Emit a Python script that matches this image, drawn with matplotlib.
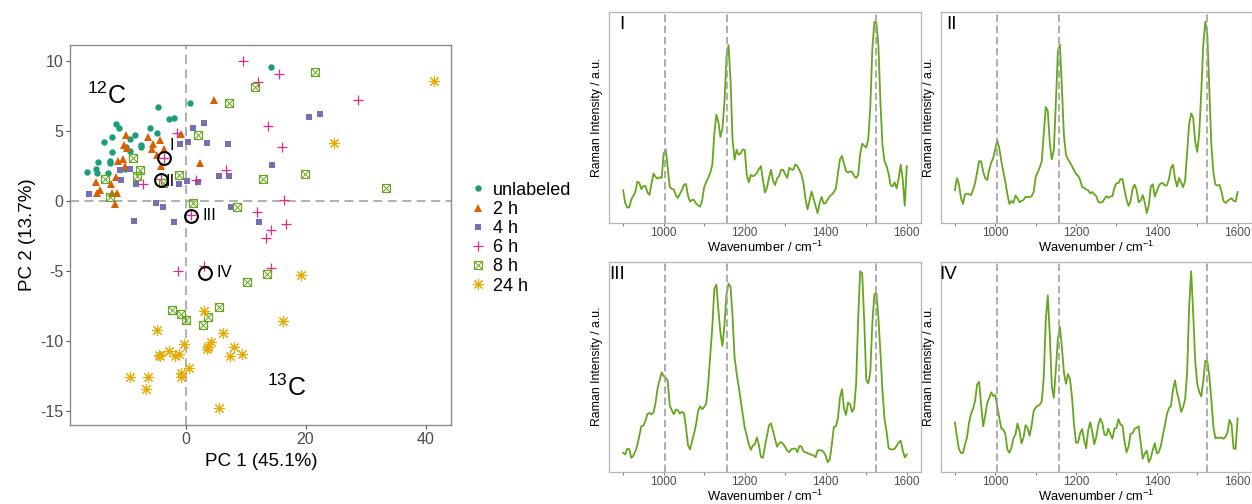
import numpy as np
import matplotlib
matplotlib.use('Agg')
import matplotlib.pyplot as plt
from matplotlib.lines import Line2D
from matplotlib.legend_handler import HandlerTuple

plt.rcParams['font.family'] = ['Liberation Sans', 'DejaVu Sans']
plt.rcParams['mathtext.fontset'] = 'custom'
plt.rcParams['mathtext.rm'] = 'Liberation Sans'
plt.rcParams['mathtext.it'] = 'Liberation Sans:italic'
plt.rcParams['mathtext.bf'] = 'Liberation Sans:bold'
plt.rcParams['axes.unicode_minus'] = False

# ---------------- PCA scores ----------------
unl_x = [14.2, 0.7, -4.6, -2.7, -2.0, -11.6, -11.1, -6.0, -4.8, -8.5, -12.2, -9.2, -13.6,
         -7.5, -7.45, -9.95, -12.2, -9.3, -14.6, -12.6, -12.6, -14.95, -16.4, -14.8, -12.9, -10.1]
unl_y = [9.6, 7.0, 6.7, 5.9, 5.95, 5.5, 5.2, 5.2, 4.9, 4.7, 4.6, 4.45, 4.2,
         4.0, 3.9, 3.85, 3.5, 3.55, 2.8, 2.9, 2.7, 2.3, 2.1, 2.0, 2.0, 2.3]

h2_x = [4.7, -0.8, -9.95, -6.3, -4.2, -5.45, -10.2, -9.8, -5.6, -3.6, -4.8, 2.4, -10.5,
        -11.2, -10.1, -4.1, -11.6, -14.95, -12.5, -14.3, -14.7, -12.2, -11.4, -11.7]
h2_y = [7.2, 4.8, 4.7, 4.6, 4.4, 4.1, 4.0, 3.8, 3.75, 3.75, 3.3, 2.7, 3.0,
        2.9, 2.5, 2.5, 1.75, 1.35, 1.2, 0.8, 0.55, 0.55, 0.6, -0.2]

h4_x = [22.4, 20.5, 3.05, 1.2, 0.4, -0.95, 3.55, 7.0, 14.4, -9.2, -11.0, 5.55, 7.2,
        -10.7, -8.3, 0.3, -1.1, 2.0, -16.1, -4.95, -3.7, 7.55, -8.55, -2.0, 12.3]
h4_y = [6.2, 6.0, 5.6, 5.2, 4.25, 4.1, 4.15, 4.1, 2.55, 2.3, 2.25, 1.8, 1.8,
        1.5, 1.25, 1.45, 1.25, 1.4, 0.5, -0.15, -0.4, -0.4, -1.4, -1.5, -1.5]

h6_x = [9.6, 15.6, 12.0, 28.7, 13.8, -1.5, 16.0, -3.55, 6.7, 1.8, -7.05, -4.1, 16.4,
        0.9, 11.9, 16.7, 14.3, 13.4, -1.2, 3.1, 14.3]
h6_y = [10.0, 9.1, 8.55, 7.25, 5.4, 4.85, 3.9, 3.1, 2.25, 1.5, 1.2, 1.6, 0.1,
        -1.0, -0.75, -1.65, -2.05, -2.65, -4.98, -4.6, -4.8]

h8_x = [21.5, 11.6, 7.3, 2.05, -8.7, -7.55, -8.1, -13.5, -1.05, 12.9, 19.9, 33.4, -12.6,
        -3.8, 1.3, 8.6, 10.2, 13.5, -2.3, 5.55, -0.7, 0.1, 3.8, 2.9]
h8_y = [9.2, 8.15, 7.05, 4.75, 3.1, 2.2, 1.8, 1.6, 1.85, 1.55, 1.95, 0.97, 0.3,
        1.3, -0.15, -0.4, -5.8, -5.2, -7.8, -7.55, -8.1, -8.5, -8.3, -8.85]

h24_x = [41.4, 24.7, 19.3, 16.3, 3.1, -4.8, 6.2, 4.2, -0.2, 3.7, 8.0, 3.5, -2.7,
         -1.1, 9.4, -4.4, -4.2, 7.4, -1.8, 0.5, -0.8, -0.7, -9.2, -6.2, -6.6, 5.55]
h24_y = [8.6, 4.15, -5.3, -8.6, -7.85, -9.2, -9.4, -10.1, -10.2, -10.4, -10.4, -10.55, -10.7,
         -10.9, -10.9, -11.0, -11.1, -11.05, -11.1, -11.9, -12.3, -12.6, -12.6, -12.6, -13.4, -14.8]

sel_x = [-3.55, -4.1, 0.9, 3.2]
sel_y = [3.1, 1.5, -1.03, -5.1]
sel_labels = ['I', 'II', 'III', 'IV']

group_labels = ['unlabeled', '2 h', '4 h', '6 h', '8 h', '24 h']
colors = ['#1B9E77', '#D95F02', '#7570B3', '#E7298A', '#66A61E', '#E6AB02']

# ---------------- Spectra (intensity, a.u.) ----------------
wavenumber = np.arange(900, 1601, 5)

spec_I = [
    128, 91, 78, 78, 101, 112, 123, 154, 150, 132,
    141, 141, 122, 115, 149, 178, 168, 163, 167, 165,
    236, 249, 196, 139, 133, 131, 114, 106, 118, 129,
    145, 147, 113, 95, 100, 100, 89, 84, 80, 99,
    138, 153, 165, 181, 203, 297, 352, 330, 286, 311,
    388, 520, 557, 454, 278, 219, 248, 234, 237, 249,
    248, 175, 152, 174, 170, 173, 180, 191, 200, 159,
    122, 137, 166, 189, 157, 144, 164, 171, 189, 189,
    175, 165, 195, 190, 189, 205, 200, 188, 176, 149,
    102, 72, 98, 125, 103, 82, 61, 92, 109, 89,
    91, 102, 111, 116, 123, 134, 178, 220, 230, 207,
    185, 181, 184, 183, 171, 165, 174, 237, 266, 260,
    255, 280, 376, 546, 626, 623, 554, 386, 262, 215,
    201, 178, 144, 140, 152, 134, 165, 204, 160, 83, 200]

spec_II = [
    138, 173, 155, 115, 97, 125, 127, 126, 123, 138,
    158, 190, 223, 222, 192, 173, 167, 198, 218, 233,
    258, 285, 260, 222, 192, 161, 125, 97, 106, 100,
    122, 114, 102, 106, 109, 118, 117, 117, 120, 132,
    176, 190, 204, 222, 300, 382, 370, 275, 228, 255,
    395, 545, 565, 437, 298, 242, 228, 219, 208, 196,
    185, 180, 168, 147, 144, 140, 137, 128, 132, 125,
    120, 103, 101, 102, 111, 120, 115, 119, 120, 145,
    158, 158, 170, 170, 138, 110, 91, 105, 142, 154,
    138, 102, 107, 123, 102, 70, 92, 148, 155, 119,
    134, 150, 158, 158, 151, 152, 170, 203, 212, 172,
    148, 173, 160, 146, 165, 250, 332, 363, 350, 280,
    250, 305, 425, 565, 632, 595, 435, 270, 190, 154,
    151, 153, 134, 106, 100, 106, 110, 114, 106, 104, 132]

spec_III = [
    93, 88, 105, 104, 78, 84, 97, 116, 144, 173,
    174, 189, 209, 212, 208, 213, 242, 286, 309, 333,
    322, 317, 308, 235, 220, 208, 222, 220, 210, 215,
    212, 169, 116, 103, 127, 151, 178, 219, 232, 223,
    230, 240, 302, 385, 468, 582, 595, 520, 452, 412,
    475, 565, 598, 590, 500, 378, 330, 292, 251, 211,
    168, 145, 119, 102, 114, 119, 139, 116, 81, 78,
    113, 144, 175, 181, 157, 133, 111, 122, 125, 119,
    110, 99, 95, 104, 105, 106, 95, 113, 112, 97,
    95, 92, 90, 87, 85, 80, 100, 101, 100, 95,
    84, 65, 73, 118, 170, 172, 195, 257, 283, 226,
    206, 243, 238, 215, 226, 300, 495, 635, 628, 485,
    310, 300, 335, 480, 566, 570, 495, 392, 276, 195,
    157, 108, 103, 103, 105, 114, 124, 129, 101, 79, 88]

spec_IV = [
    188, 147, 110, 98, 98, 123, 144, 188, 213, 229,
    251, 300, 308, 240, 177, 208, 245, 260, 277, 266,
    269, 233, 201, 170, 167, 153, 108, 99, 114, 142,
    153, 185, 163, 126, 144, 180, 172, 149, 179, 222,
    232, 237, 240, 251, 320, 490, 563, 445, 295, 261,
    345, 435, 470, 409, 335, 302, 331, 316, 263, 181,
    128, 129, 156, 169, 137, 112, 165, 189, 161, 124,
    145, 181, 200, 186, 153, 150, 170, 153, 140, 170,
    172, 198, 182, 179, 132, 100, 117, 155, 156, 170,
    172, 177, 130, 81, 96, 105, 71, 83, 108, 127,
    97, 101, 119, 151, 180, 213, 230, 237, 285, 312,
    276, 254, 219, 233, 256, 335, 530, 634, 510, 370,
    302, 278, 265, 310, 370, 368, 325, 254, 176, 141,
    144, 142, 144, 140, 146, 159, 196, 182, 112, 110, 200]

band_positions = [1004, 1157, 1525]

# ---------------- Figure ----------------
fig = plt.figure(figsize=(12.52, 5.04), dpi=100)

TICKCOL = '#4D4D4D'

# ---- PCA score plot ----
ax = fig.add_axes([0.0562, 0.1567, 0.3043, 0.754])
ax.axhline(0, color='#AAAAAA', lw=1.3, ls=(0, (5, 3)), zorder=1)
ax.axvline(0, color='#AAAAAA', lw=1.3, ls=(0, (5, 3)), zorder=1)

styles = [
    dict(marker='o', ms=4.6, mew=0),
    dict(marker='^', ms=6.0, mew=0),
    dict(marker='s', ms=5.0, mew=0),
    dict(marker='+', ms=7.8, mew=0.9),
    None,
    dict(marker=(8, 2, 0), ms=8.0, mew=0.8),
]
data = [(unl_x, unl_y), (h2_x, h2_y), (h4_x, h4_y), (h6_x, h6_y), (h8_x, h8_y), (h24_x, h24_y)]

handles = []
for i, (xs, ys) in enumerate(data):
    c = colors[i]
    if styles[i] is None:
        ax.plot(xs, ys, ls='none', marker='s', ms=5.6, mfc='none', mec=c, mew=0.85, zorder=3)
        ax.plot(xs, ys, ls='none', marker='x', ms=5.2, mec=c, mew=0.7, zorder=3)
        h = (Line2D([], [], ls='none', marker='s', ms=5.6, mfc='none', mec=c, mew=0.85),
             Line2D([], [], ls='none', marker='x', ms=5.2, mec=c, mew=0.7))
    else:
        st = styles[i]
        ax.plot(xs, ys, ls='none', color=c, mec=c, mfc=c, zorder=3, **st)
        h = Line2D([], [], ls='none', color=c, mec=c, mfc=c, **st)
    handles.append(h)

ax.plot(sel_x, sel_y, ls='none', marker='o', ms=9.2, mfc='none', mec='black', mew=1.5, zorder=5)
label_pos = [(-2.75, 3.95), (-3.3, 1.4), (2.75, -1.03), (5.15, -5.07)]
for lab, (tx, ty) in zip(sel_labels, label_pos):
    ax.text(tx, ty, lab, ha='left', va='center', fontsize=12, color='black', zorder=6)

ax.text(-13.2, 6.95, r'$^{12}$C', fontsize=18, ha='center', va='baseline')
ax.text(16.8, -13.96, r'$^{13}$C', fontsize=18, ha='center', va='baseline')

ax.set_xlim(-19.2, 44.3)
ax.set_ylim(-16.0, 11.16)
ax.set_xticks([0, 20, 40])
ax.set_yticks([-15, -10, -5, 0, 5, 10])
ax.tick_params(axis='both', labelsize=11.5, labelcolor=TICKCOL, color='#555555',
               length=2.8, width=0.8, pad=2.5)
for sp in ax.spines.values():
    sp.set_color('#8A8A8A')
    sp.set_linewidth(1.0)
ax.set_xlabel('PC 1 (45.1%)', fontsize=13.5, labelpad=4)
ax.set_ylabel('PC 2 (13.7%)', fontsize=13.5, labelpad=3)

fig.legend(handles, group_labels, loc='upper left', bbox_to_anchor=(0.3758, 0.6395),
           frameon=False, fontsize=13, handlelength=0.8, handletextpad=0.45,
           labelspacing=0.12, borderaxespad=0, borderpad=0,
           handler_map={tuple: HandlerTuple(ndivide=1, pad=0)})

# ---- Spectra ----
panel_rects = [
    [0.4864, 0.5581, 0.2492, 0.4175],
    [0.7514, 0.5581, 0.2484, 0.4175],
    [0.4864, 0.0640, 0.2492, 0.4168],
    [0.7514, 0.0640, 0.2484, 0.4168],
]
spectra = [spec_I, spec_II, spec_III, spec_IV]
for rect, spec, lab in zip(panel_rects, spectra, sel_labels):
    a = fig.add_axes(rect)
    a.plot(wavenumber, spec, color='#66A61E', lw=1.3, zorder=2)
    for b in band_positions:
        a.axvline(b, color='#A0A0A0', lw=1.2, ls=(0, (4.5, 2.2)), zorder=3)
    a.set_xlim(865, 1635)
    a.margins(y=0.05)
    a.set_xticks(np.arange(900, 1601, 100))
    a.set_xticklabels(['' if t % 200 else str(t) for t in range(900, 1601, 100)])
    a.set_yticks([])
    a.tick_params(axis='x', labelsize=8.5, labelcolor=TICKCOL, color='#777777',
                  length=2.2, width=0.7, pad=1.2)
    for sp in a.spines.values():
        sp.set_color('#B5B5B5')
        sp.set_linewidth(0.9)
    a.set_xlabel('Wavenumber / cm$^{-1}$', fontsize=9.3, labelpad=0.5)
    a.set_ylabel('Raman Intensity / a.u.', fontsize=8.8, labelpad=4)
    a.text(0.051, 0.94, lab, transform=a.transAxes, ha='right', va='center', fontsize=13.5)

fig.savefig('out.png', dpi=100)
